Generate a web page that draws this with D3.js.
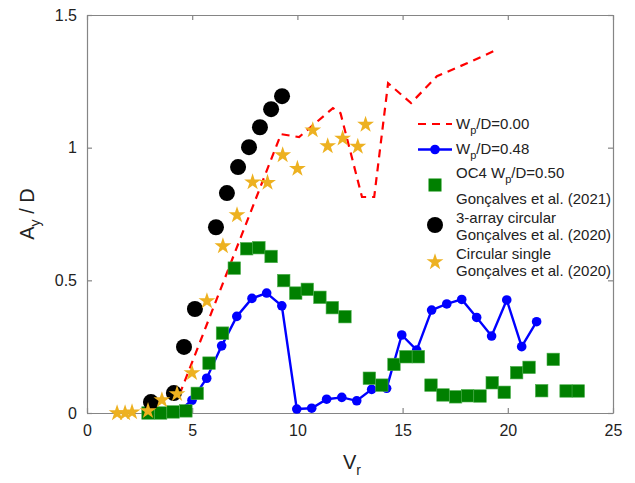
<!DOCTYPE html>
<html>
<head>
<meta charset="utf-8">
<script src="https://cdn.jsdelivr.net/npm/d3@7"></script>
<style>
   body { margin: 0; background: #fff; }
   svg { display: block; font-family: "Liberation Sans", Helvetica, Arial, sans-serif; }
</style>
</head>
<body>
<div id="chart"></div>
<script>
// Wp/D = 0.00 (red dashed)
const redV = [4.4, 9.22, 10.08, 11.69, 12.05, 13.07, 13.65, 14.31, 15.4, 16.63, 18.06, 19.53];
const redA = [0.07, 1.051, 1.04, 1.149, 1.13, 0.814, 0.814, 1.243, 1.168, 1.269, 1.318, 1.371];

// Wp/D = 0.48 (blue line with dots)
const blueV = [4.26, 4.99, 5.69, 6.40, 7.12, 7.84, 8.54, 9.26, 9.97, 10.68, 11.39, 12.11, 12.82,
   13.53, 14.24, 14.96, 15.67, 16.38, 17.10, 17.81, 18.52, 19.23, 19.95, 20.66, 21.37];
const blueA = [0.0, 0.048, 0.131, 0.253, 0.364, 0.432, 0.452, 0.404, 0.015, 0.018, 0.052, 0.059, 0.046,
   0.089, 0.093, 0.294, 0.237, 0.388, 0.411, 0.428, 0.360, 0.290, 0.426, 0.250, 0.344];

// OC4 Wp/D=0.50, Gonçalves et al. (2021)
const squareV = [2.90, 3.50, 4.09, 4.70, 5.24, 5.80, 6.44, 7.0, 7.59, 8.17, 8.75, 9.35, 9.92, 10.47,
   11.07, 11.66, 12.26, 13.42, 14.01, 14.59, 15.16, 15.75, 16.35, 16.92, 17.52, 18.09, 18.68,
   19.26, 19.83, 20.42, 21.01, 21.61, 22.16, 22.77, 23.35];
const squareA = [0.0, 0.0, 0.004, 0.008, 0.074, 0.188, 0.301, 0.546, 0.619, 0.623, 0.590, 0.499, 0.452, 0.466,
   0.436, 0.397, 0.363, 0.131, 0.105, 0.183, 0.212, 0.212, 0.105, 0.068, 0.061, 0.065, 0.064,
   0.114, 0.078, 0.152, 0.172, 0.084, 0.202, 0.083, 0.083];

// 3-array circular, Gonçalves et al. (2020)
const circleV = [3.04, 4.13, 4.61, 5.13, 6.13, 6.65, 7.18, 7.70, 8.22, 8.75, 9.27];
const circleA = [0.041, 0.075, 0.249, 0.392, 0.70, 0.829, 0.927, 1.002, 1.077, 1.145, 1.194];

// Circular single, Gonçalves et al. (2020)
const starV = [1.43, 1.81, 2.14, 2.90, 3.56, 4.28, 4.99, 5.70, 6.46, 7.13, 7.87, 8.58, 9.30,
   10.0, 10.73, 11.44, 12.15, 12.87, 13.24];
const starA = [0.0, 0.0, 0.003, 0.008, 0.049, 0.072, 0.151, 0.422, 0.629, 0.746, 0.870, 0.868, 0.972,
   0.921, 1.066, 1.006, 1.035, 1.004, 1.087];

const xTicks = [0, 5, 10, 15, 20, 25];
const yTicks = [0, 0.5, 1, 1.5];
const yTickLabels = ["0", "0.5", "1", "1.5"];

const width = 635, height = 483;
const margin = { left: 87, right: 22, top: 15, bottom: 70 };

const x = d3.scaleLinear().domain([0, 25]).range([margin.left, width - margin.right]);
const y = d3.scaleLinear().domain([0, 1.5]).range([height - margin.bottom, margin.top]);

const svg = d3.select("#chart").append("svg")
   .attr("width", width)
   .attr("height", height);

const axisColor = "#858585";
const textColor = "#222";
const tickLen = 5;

// Axes box, ticks on all four sides
const xAxisB = d3.axisBottom(x).tickValues(xTicks).tickSizeInner(-tickLen).tickSizeOuter(0).tickPadding(12);
const xAxisT = d3.axisTop(x).tickValues(xTicks).tickSizeInner(-tickLen).tickSizeOuter(0).tickFormat("");
const yAxisL = d3.axisLeft(y).tickValues(yTicks).tickSizeInner(-tickLen).tickSizeOuter(0).tickPadding(10)
   .tickFormat((d, i) => yTickLabels[i]);
const yAxisR = d3.axisRight(y).tickValues(yTicks).tickSizeInner(-tickLen).tickSizeOuter(0).tickFormat("");

function styleAxis(g) {
   g.select(".domain").attr("stroke", axisColor).attr("stroke-width", 1.2);
   g.selectAll(".tick line").attr("stroke", axisColor).attr("stroke-width", 1.2);
   g.selectAll(".tick text").attr("fill", textColor).attr("font-size", 16)
      .attr("font-family", "'Liberation Sans', Helvetica, Arial, sans-serif");
}

svg.append("g").attr("transform", `translate(0,${y(0)})`).call(xAxisB).call(styleAxis);
svg.append("g").attr("transform", `translate(0,${y(1.5)})`).call(xAxisT).call(styleAxis);
svg.append("g").attr("transform", `translate(${x(0)},0)`).call(yAxisL).call(styleAxis);
svg.append("g").attr("transform", `translate(${x(25)},0)`).call(yAxisR).call(styleAxis);

// Axis labels
const xLabel = svg.append("text")
   .attr("x", (x(0) + x(25)) / 2 + 2)
   .attr("y", 469)
   .attr("text-anchor", "middle")
   .attr("font-size", 20)
   .attr("fill", textColor);
xLabel.append("tspan").text("V");
xLabel.append("tspan").attr("font-size", 14).attr("dy", 6).text("r");

const yLabel = svg.append("text")
   .attr("transform", `translate(34,${(y(0) + y(1.5)) / 2}) rotate(-90)`)
   .attr("text-anchor", "middle")
   .attr("font-size", 20)
   .attr("fill", textColor);
yLabel.append("tspan").text("A");
yLabel.append("tspan").attr("font-size", 14).attr("dy", 6).text("y");
yLabel.append("tspan").attr("dy", -6).text(" / D");

const plot = svg.append("g");

// Red dashed line
const redData = redV.map((v, i) => [v, redA[i]]);
plot.append("path")
   .datum(redData)
   .attr("fill", "none")
   .attr("stroke", "#ff0000")
   .attr("stroke-width", 2.2)
   .attr("stroke-dasharray", "8,6")
   .attr("d", d3.line().x(d => x(d[0])).y(d => y(d[1])));

// Blue line with dots
const blueData = blueV.map((v, i) => [v, blueA[i]]);
plot.append("path")
   .datum(blueData)
   .attr("fill", "none")
   .attr("stroke", "#0000ff")
   .attr("stroke-width", 2.4)
   .attr("d", d3.line().x(d => x(d[0])).y(d => y(d[1])));
plot.append("g").selectAll("circle")
   .data(blueData)
   .join("circle")
   .attr("cx", d => x(d[0]))
   .attr("cy", d => y(d[1]))
   .attr("r", 4.8)
   .attr("fill", "#0000ff");

// Green squares
const sq = 12.5;
plot.append("g").selectAll("rect")
   .data(squareV.map((v, i) => [v, squareA[i]]))
   .join("rect")
   .attr("x", d => x(d[0]) - sq / 2)
   .attr("y", d => y(d[1]) - sq / 2)
   .attr("width", sq)
   .attr("height", sq)
   .attr("fill", "#008000")
   .attr("stroke", "#4caf4c")
   .attr("stroke-width", 0.6);

// Black circles
plot.append("g").selectAll("circle")
   .data(circleV.map((v, i) => [v, circleA[i]]))
   .join("circle")
   .attr("cx", d => x(d[0]))
   .attr("cy", d => y(d[1]))
   .attr("r", 8)
   .attr("fill", "#000");

// Yellow stars
const star = d3.symbol(d3.symbolStar, 88);
plot.append("g").selectAll("path")
   .data(starV.map((v, i) => [v, starA[i]]))
   .join("path")
   .attr("transform", d => `translate(${x(d[0])},${y(d[1])})`)
   .attr("d", star)
   .attr("fill", "#edb120");

// Legend
const lg = svg.append("g").attr("font-size", 15).attr("fill", textColor);
const lx0 = 418, lx1 = 452, lmx = 435, ltx = 456;

function wpText(t, prefix, value) {
   t.append("tspan").text(prefix + "W");
   t.append("tspan").attr("font-size", 11).attr("dy", 5).text("p");
   t.append("tspan").attr("dy", -5).text("/D=" + value);
}

lg.append("line").attr("x1", lx0).attr("x2", lx1).attr("y1", 124).attr("y2", 124)
   .attr("stroke", "#ff0000").attr("stroke-width", 2.2).attr("stroke-dasharray", "8,6");
wpText(lg.append("text").attr("x", ltx).attr("y", 128.5), "", "0.00");

lg.append("line").attr("x1", lx0).attr("x2", lx1).attr("y1", 149.5).attr("y2", 149.5)
   .attr("stroke", "#0000ff").attr("stroke-width", 2.4);
lg.append("circle").attr("cx", lmx).attr("cy", 149.5).attr("r", 4.8).attr("fill", "#0000ff");
wpText(lg.append("text").attr("x", ltx).attr("y", 154), "", "0.48");

lg.append("rect").attr("x", lmx - sq / 2).attr("y", 185 - sq / 2).attr("width", sq).attr("height", sq)
   .attr("fill", "#008000").attr("stroke", "#4caf4c").attr("stroke-width", 0.6);
wpText(lg.append("text").attr("x", ltx).attr("y", 178), "OC4 ", "0.50");
lg.append("text").attr("x", ltx).attr("y", 203.5).text("Gonçalves et al. (2021)");

lg.append("circle").attr("cx", lmx).attr("cy", 225).attr("r", 8).attr("fill", "#000");
lg.append("text").attr("x", ltx).attr("y", 222.5).text("3-array circular");
lg.append("text").attr("x", ltx).attr("y", 240).text("Gonçalves et al. (2020)");

lg.append("path").attr("transform", `translate(${lmx},262)`).attr("d", star).attr("fill", "#edb120");
lg.append("text").attr("x", ltx).attr("y", 259).text("Circular single");
lg.append("text").attr("x", ltx).attr("y", 276).text("Gonçalves et al. (2020)");
</script>
</body>
</html>
